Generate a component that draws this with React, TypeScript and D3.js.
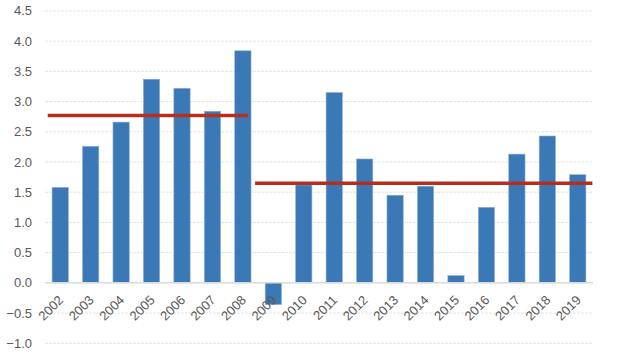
import React from "react";
import * as d3 from "d3";

const years = ["2002","2003","2004","2005","2006","2007","2008","2009","2010","2011","2012","2013","2014","2015","2016","2017","2018","2019"];
const values = [1.58, 2.26, 2.66, 3.37, 3.22, 2.84, 3.84, -0.36, 1.62, 3.15, 2.05, 1.45, 1.60, 0.12, 1.25, 2.13, 2.43, 1.79];
const yTicks = [-1.0, -0.5, 0.0, 0.5, 1.0, 1.5, 2.0, 2.5, 3.0, 3.5, 4.0, 4.5];
// period averages: [startYear, endYear, value]
const avgStart = [2001.59, 2008.4];
const avgEnd = [2008.17, 2019.48];
const avgValue = [2.77, 1.65];

const W = 617, H = 357;
const left = 45, right = 593, top = 10.9, bottom = 343.3;

export default function App() {
  const x = d3.scaleBand<string>().domain(years).range([left, right]).paddingInner(0.465).paddingOuter(0.2325);
  const xYear = d3.scaleLinear().domain([2001.5, 2019.5]).range([left, right]);
  const y = d3.scaleLinear().domain([-1, 4.5]).range([bottom, top]);
  const fmt = d3.format(".1f");
  const bw = x.bandwidth();
  return (
    <div style={{ position: "absolute", left: 0, top: 0 }}>
      <svg width={W} height={H} style={{ display: "block", background: "#fff" }} fontFamily="'Liberation Sans', Arial, sans-serif">
        {yTicks.map((t) => (
          <g key={t}>
            {t !== 0 && (
              <line x1={left} x2={right} y1={y(t)} y2={y(t)} stroke="#e4e4e4" strokeWidth={1} strokeDasharray="3,1" />
            )}
            <text x={32} y={y(t)} dy="0.35em" textAnchor="end" fontSize={13} fill="#595959">{fmt(t)}</text>
          </g>
        ))}
        {years.map((yr, i) => {
          const v = values[i];
          return (
            <rect key={yr} x={x(yr)} y={y(Math.max(0, v))} width={bw} height={Math.abs(y(v) - y(0))} fill="#3a78b6" stroke="#8fb2d8" strokeWidth={0.6} />
          );
        })}
        <line x1={left} x2={right} y1={y(0)} y2={y(0)} stroke="#dadada" strokeWidth={1.5} />
        {avgValue.map((v, i) => (
          <line key={i} x1={xYear(avgStart[i])} x2={xYear(avgEnd[i])} y1={y(v)} y2={y(v)} stroke="#b3301f" strokeWidth={3.5} />
        ))}
        {years.map((yr) => {
          const cx = (x(yr) as number) + bw / 2 + 4;
          const cy = y(0) + 18;
          return (
            <text key={yr} x={cx} y={cy} textAnchor="end" fontSize={13} fill="#595959" transform={`rotate(-45 ${cx} ${cy})`}>{yr}</text>
          );
        })}
      </svg>
    </div>
  );
}
